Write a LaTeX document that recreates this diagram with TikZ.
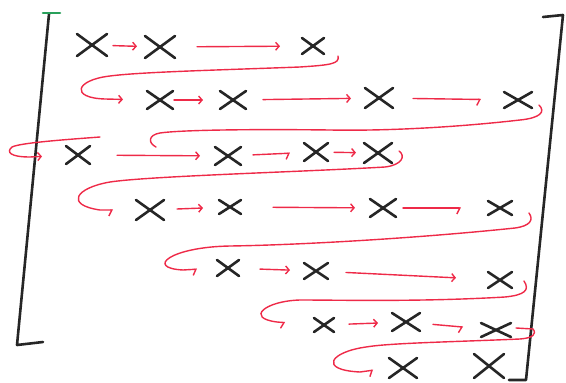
\documentclass[tikz,border=0pt]{standalone}
\usetikzlibrary{shapes.misc,arrows.meta}
\definecolor{penred}{RGB}{238,42,72}
\definecolor{pengreen}{RGB}{40,160,90}

\begin{document}
\begin{tikzpicture}[x=1pt, y=-1pt,
  ex/.style 2 args={cross out, draw=black!85, line width=2.6pt, line cap=round,
    minimum width=#1, minimum height=#2, inner sep=0pt, outer sep=0pt},
  pen/.style={draw=penred, line width=1.4pt, line cap=round},
  arr/.style={pen, -{Straight Barb[length=3.5pt,width=8pt]}},
  harr/.style={pen, -{Straight Barb[length=3pt,width=12pt,right]}},
  brk/.style={draw=black!85, line width=2.6pt, line cap=round, line join=round}]
\useasboundingbox (0,0) rectangle (566,383);

% brackets
\draw[brk] (49,14) -- (17,345) -- (43,342);
\draw[pengreen, line width=2.6pt, line cap=round] (43,13) -- (60,13);
\draw[brk] (543,17) -- (563,15) -- (526,380) -- (509,380);

% entries
\node[ex={30pt}{22pt}] (a11) at (92,45) {};
\node[ex={30pt}{22pt}] (a12) at (160,47) {};
\node[ex={22pt}{16pt}] (a13) at (313,46) {};

\node[ex={26pt}{18pt}] (a21) at (160,100) {};
\node[ex={26pt}{18pt}] (a22) at (233,100) {};
\node[ex={28pt}{20pt}] (a23) at (379,98) {};
\node[ex={28pt}{16pt}] (a24) at (518,100) {};

\node[ex={24pt}{18pt}] (a31) at (78,155) {};
\node[ex={26pt}{18pt}] (a32) at (228,156) {};
\node[ex={24pt}{18pt}] (a33) at (316,152) {};
\node[ex={28pt}{20pt}] (a34) at (378,153) {};

\node[ex={28pt}{20pt}] (a41) at (150,210) {};
\node[ex={22pt}{14pt}] (a42) at (230,207) {};
\node[ex={26pt}{18pt}] (a43) at (383,208) {};
\node[ex={24pt}{14pt}] (a44) at (500,208) {};

\node[ex={22pt}{16pt}] (a51) at (228,268) {};
\node[ex={24pt}{16pt}] (a52) at (316,271) {};
\node[ex={24pt}{16pt}] (a53) at (500,280) {};

\node[ex={20pt}{14pt}] (a61) at (324,325) {};
\node[ex={28pt}{18pt}] (a62) at (406,322) {};
\node[ex={30pt}{14pt}] (a63) at (496,330) {};

\node[ex={28pt}{20pt}] (a71) at (403,368) {};
\node[ex={30pt}{24pt}] (a72) at (489,366) {};

% arrows along the rows
\draw[arr, shorten <=6pt, shorten >=8pt] (a11) -- (a12);
\draw[arr, shorten <=22pt, shorten >=22pt] (a12) -- (a13);

\draw[arr, shorten <=1pt, shorten >=17pt] (a21) -- (a22);
\draw[arr, shorten <=17pt, shorten >=14pt] (a22) -- (a23);
\draw[harr, shorten <=20pt, shorten >=23pt] (a23) -- (a24);

\draw[arr, shorten <=27pt, shorten >=15pt] (a31) -- (a32);
\draw[harr, shorten <=12pt, shorten >=14pt] (a32) -- (a33);
\draw[arr, shorten <=6pt, shorten >=8pt] (a33) -- (a34);

\draw[arr, shorten <=13pt, shorten >=16pt] (a41) -- (a42);
\draw[arr, shorten <=32pt, shorten >=15pt] (a42) -- (a43);
\draw[harr, shorten <=7pt, shorten >=27pt] (a43) -- (a44);

\draw[arr, shorten <=21pt, shorten >=14pt] (a51) -- (a52);
\draw[arr, shorten <=18pt, shorten >=32pt] (a52) -- (a53);

\draw[arr, shorten <=15pt, shorten >=14pt] (a61) -- (a62);
\draw[harr, shorten <=13pt, shorten >=18pt] (a62) -- (a63);

% snake back to the next row
\draw[arr, shorten >=24pt] ([shift={(14,10)}]a13.east)
  .. controls (340,64) and (330,65) .. (300,67)
  .. controls (220,70) and (140,72) .. (110,76)
  .. controls (75,80) and (70,98) .. (105,99) -- (a21.west);

\coordinate (k2) at (156,147);
\coordinate (k3) at (100,137);
\draw[pen] ([shift={(7,5)}]a24.east)
  .. controls (546,112) and (540,118) .. (520,120)
  .. controls (450,128) and (380,131) .. (330,130)
  .. controls (250,129) and (180,130) .. (160,133)
  .. controls (148,135) and (148,143) .. (k2);
\draw[arr, shorten >=24pt] (k3)
  .. controls (60,140) and (20,143) .. (12,147)
  .. controls (6,152) and (10,157) .. (30,157) -- (a31.west);

\draw[harr, shorten >=23pt] ([shift={(7,-2)}]a34.east)
  .. controls (406,156) and (402,165) .. (385,167)
  .. controls (300,172) and (150,176) .. (110,182)
  .. controls (75,188) and (65,205) .. (100,210) -- (a41.west);

\draw[harr, shorten >=20pt] ([shift={(17,5)}]a44.east)
  .. controls (534,220) and (530,226) .. (515,228)
  .. controls (420,238) and (300,245) .. (230,246)
  .. controls (170,247) and (145,268) .. (183,270) -- (a51.west);

\draw[harr, shorten >=29pt] ([shift={(12,1)}]a53.east)
  .. controls (530,290) and (525,295) .. (505,297)
  .. controls (420,302) and (340,300) .. (300,300)
  .. controls (265,301) and (245,318) .. (277,322) -- (a61.west);

\draw[harr, shorten >=16pt] ([shift={(5,-2)}]a63.east) -- (533,329)
  .. controls (537,334) and (533,338) .. (520,339)
  .. controls (450,342) and (390,343) .. (366,347)
  .. controls (330,352) and (318,370) .. (360,372) -- (a71.west);
\end{tikzpicture}
\end{document}
